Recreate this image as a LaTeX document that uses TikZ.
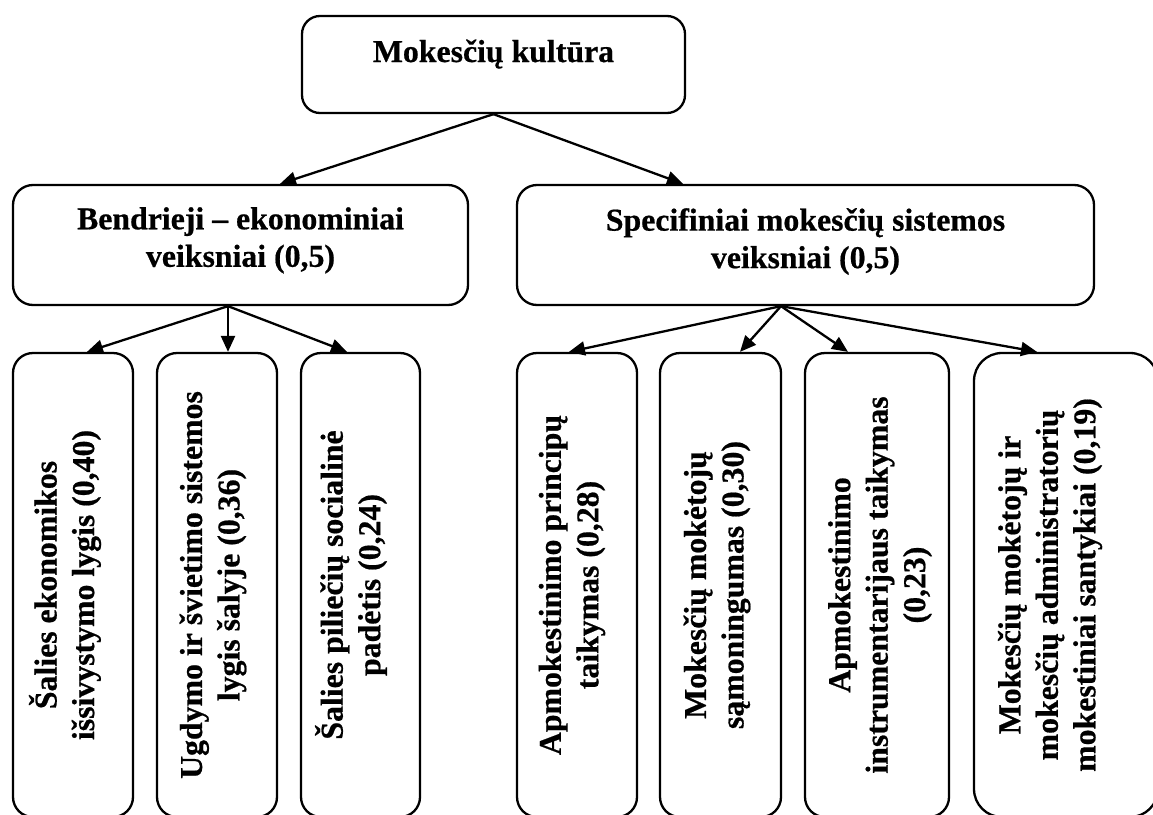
\documentclass[tikz,border=0pt]{standalone}
\usepackage{fontspec}
\setmainfont{Liberation Serif}[BoldFeatures={FakeBold=0.6}]
\usetikzlibrary{arrows.meta}

\begin{document}
\begin{tikzpicture}[x=1pt,y=-1pt,
  box/.style={draw, line width=2.3pt, rounded corners=20pt, inner sep=0pt},
  lbl/.style={font=\fontsize{31.8}{37.5}\selectfont\bfseries, align=center, inner sep=0pt},
  vlbl/.style={lbl, rotate=90},
  arr/.style={line width=2.3pt, -{Triangle[length=16pt,width=14pt]}}
]
\useasboundingbox (0,0) rectangle (1153,814);
\clip (0,0) rectangle (1153,814);

% root
\node[box, rounded corners=18pt, minimum width=383pt, minimum height=97pt] (top) at (493.5,64.5) {};
\node[lbl, anchor=base] (topt) at (493.5,62) {Mokesčių kultūra};

% second level
\node[box, minimum width=455pt, minimum height=120pt] (bend) at (240.5,245) {};
\node[lbl, anchor=north] (bendt) at (240.5,207) {Bendrieji – ekonominiai\\veiksniai (0,5)};

\node[box, minimum width=577pt, minimum height=120pt] (spec) at (805.5,245) {};
\node[lbl, anchor=north] (spect) at (805.5,208) {Specifiniai mokesčių sistemos\\veiksniai (0,5)};

% third level
\node[box, minimum width=120pt, minimum height=464pt] (b1) at (73,585) {};
\node[box, minimum width=120pt, minimum height=464pt] (b2) at (217,585) {};
\node[box, minimum width=119pt, minimum height=464pt] (b3) at (360.5,585) {};
\node[box, minimum width=120pt, minimum height=464pt] (b4) at (577,585) {};
\node[box, minimum width=121pt, minimum height=464pt] (b5) at (720.5,585) {};
\node[box, minimum width=144pt, minimum height=464pt] (b6) at (877,585) {};
\node[box, rounded corners=28pt, minimum width=184pt, minimum height=464pt] (b7) at (1066,585) {};

\node[vlbl] (b1t) at (65,585) {Šalies ekonomikos\\išsivystymo lygis (0,40)};
\node[vlbl] (b2t) at (213,585) {Ugdymo ir švietimo sistemos\\lygis šalyje (0,36)};
\node[vlbl] (b3t) at (351,585) {Šalies piliečių socialinė\\padėtis (0,24)};
\node[vlbl] (b4t) at (572,585) {Apmokestinimo principų\\taikymas (0,28)};
\node[vlbl] (b5t) at (717,585) {Mokesčių mokėtojų\\sąmoningumas (0,30)};
\node[vlbl] (b6t) at (880,585) {Apmokestinimo\\instrumentarijaus taikymas\\(0,23)};
\node[vlbl] (b7t) at (1050,585) {Mokesčių mokėtojų ir\\mokesčių administratorių\\mokestiniai santykiai (0,19)};

% connectors
\draw[arr] (top.south) -- ([xshift=39.5pt]bend.north);
\draw[arr] (top.south) -- ([xshift=-122.5pt]spec.north);

\draw[arr] ([xshift=-12.5pt]bend.south) -- ([xshift=14pt]b1.north);
\draw[arr] ([xshift=-12.5pt]bend.south) -- ([xshift=11pt]b2.north);
\draw[arr] ([xshift=-12.5pt]bend.south) -- ([xshift=-13.5pt]b3.north);

\draw[arr] ([xshift=-24.5pt]spec.south) -- ([xshift=-8pt]b4.north);
\draw[arr] ([xshift=-24.5pt]spec.south) -- ([xshift=19.5pt]b5.north);
\draw[arr] ([xshift=-24.5pt]spec.south) -- ([xshift=-29pt]b6.north);
\draw[arr] ([xshift=-24.5pt]spec.south) -- ([xshift=-29pt]b7.north);
\end{tikzpicture}
\end{document}
